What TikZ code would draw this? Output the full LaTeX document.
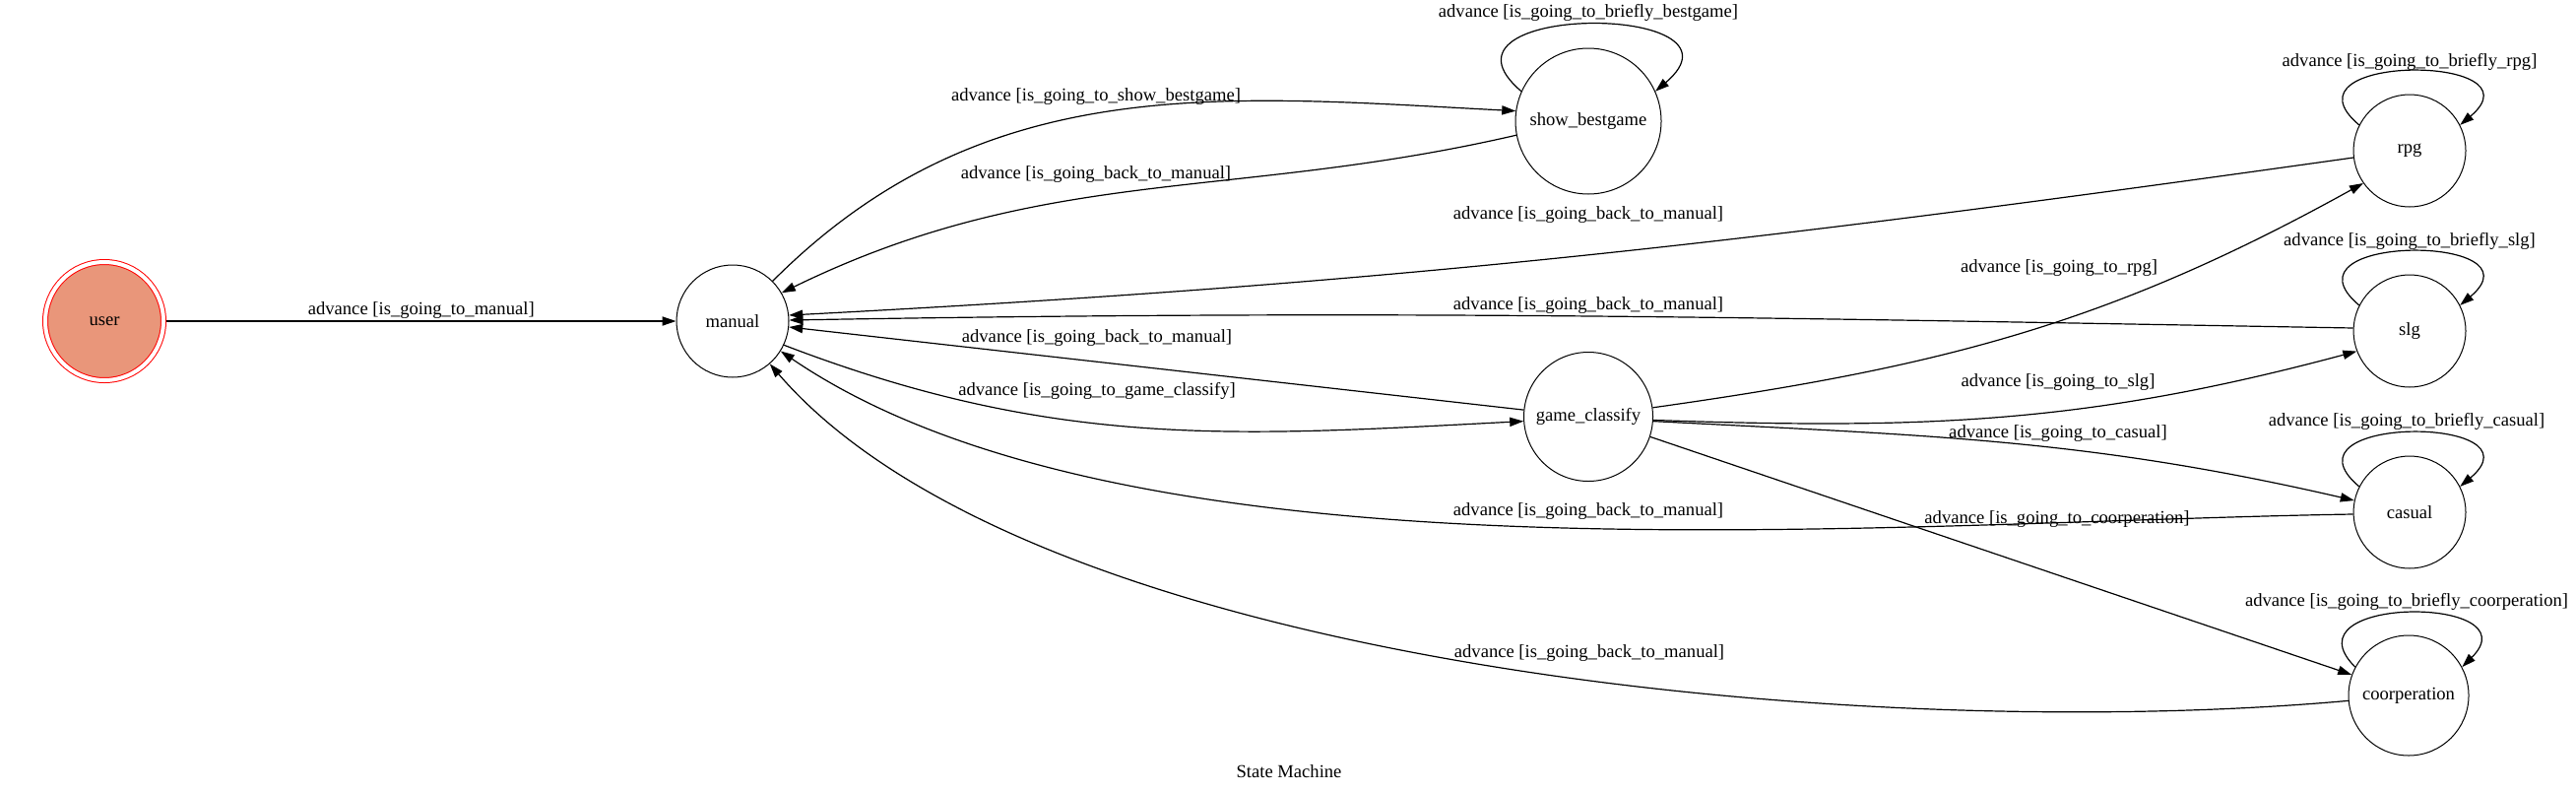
\documentclass[tikz,border=0pt]{standalone}
\usepackage{fontspec}
\setmainfont{Liberation Serif}
\usepackage{xcolor}
\usetikzlibrary{arrows.meta}
\definecolor{usersalmon}{RGB}{233,150,122}

\begin{document}
\begin{tikzpicture}[
  x=0.5pt, y=-0.5pt,
  every node/.style={font=\fontsize{9.3}{11}\selectfont},
  state/.style={draw, circle, line width=0.5pt, inner sep=0pt, minimum size=57pt},
  arr/.style={-{Triangle[length=7pt, width=4.6pt]}, line width=0.6pt},
  lbl/.style={inner sep=1pt}
]
  \useasboundingbox (0,0) rectangle (2616,803);
  \node[state, draw=red, fill=usersalmon, double=white, double distance=2pt, minimum size=60pt, outer sep=1.5pt] (user) at (106,326) {user};
  \node[state] (manual) at (744,326) {manual};
  \node[state, minimum size=74pt] (show) at (1613,123) {show\_bestgame};
  \node[state, minimum size=65.5pt] (classify) at (1613,423) {game\_classify};
  \node[state] (rpg) at (2447,153) {rpg};
  \node[state] (slg) at (2447,336) {slg};
  \node[state] (casual) at (2447,520) {casual};
  \node[state, minimum size=61pt] (coop) at (2446,706) {coorperation};
  \node (title) at (1309,783) {State Machine};

  \draw[arr] (user) -- node[lbl, above] {advance [is\_going\_to\_manual]} (manual);
  \draw[arr] (manual.45) to[out=45, in=177] (show.172) node[lbl] at (1113,98) {advance [is\_going\_to\_show\_bestgame]};
  \draw[arr] (show.191) to[out=193, in=26] (manual.30) node[lbl] at (1113,177) {advance [is\_going\_back\_to\_manual]};
  \draw[arr] (show.156) .. controls (1438,2) and (1788,2) .. (show.24) node[lbl] at (1613,13) {advance [is\_going\_to\_briefly\_bestgame]};
  \draw[arr] (rpg.187) to[out=188, in=3] (manual.6) node[lbl] at (1613,218) {advance [is\_going\_back\_to\_manual]};
  \draw[arr] (rpg.153) .. controls (2309,54) and (2585,54) .. (rpg.27) node[lbl] at (2447,63) {advance [is\_going\_to\_briefly\_rpg]};
  \draw[arr] (slg.177) to[out=179, in=1] (manual.1) node[lbl] at (1613,310) {advance [is\_going\_back\_to\_manual]};
  \draw[arr] (slg.153) .. controls (2309,237) and (2585,237) .. (slg.27) node[lbl] at (2447,245) {advance [is\_going\_to\_briefly\_slg]};
  \draw[arr] (casual.182) .. controls (1900,530) and (1150,600) .. (manual.328) node[lbl] at (1613,519) {advance [is\_going\_back\_to\_manual]};
  \draw[arr] (casual.153) .. controls (2309,421) and (2585,421) .. (casual.27) node[lbl] at (2444,428) {advance [is\_going\_to\_briefly\_casual]};
  \draw[arr] (coop.185) .. controls (1900,755) and (1050,680) .. (manual.311) node[lbl] at (1614,663) {advance [is\_going\_back\_to\_manual]};
  \draw[arr] (coop.152) .. controls (2318,604) and (2574,604) .. (coop.28) node[lbl] at (2444,611) {advance [is\_going\_to\_briefly\_coorperation]};
  \draw[arr] (classify.174) -- (manual.354) node[lbl] at (1114,343) {advance [is\_going\_back\_to\_manual]};
  \draw[arr] (manual.335) to[out=-21, in=183] (classify.184) node[lbl] at (1114,397) {advance [is\_going\_to\_game\_classify]};
  \draw[arr] (classify.8) to[out=8, in=209] (rpg.215) node[lbl] at (2091,272) {advance [is\_going\_to\_rpg]};
  \draw[arr] (classify.357) to[out=-2, in=195] (slg.201) node[lbl] at (2090,388) {advance [is\_going\_to\_slg]};
  \draw[arr] (classify.356) to[out=-3, in=167] (casual.168) node[lbl] at (2090,440) {advance [is\_going\_to\_casual]};
  \draw[arr] (classify.342) -- (coop.160) node[lbl] at (2089,527) {advance [is\_going\_to\_coorperation]};
\end{tikzpicture}
\end{document}
